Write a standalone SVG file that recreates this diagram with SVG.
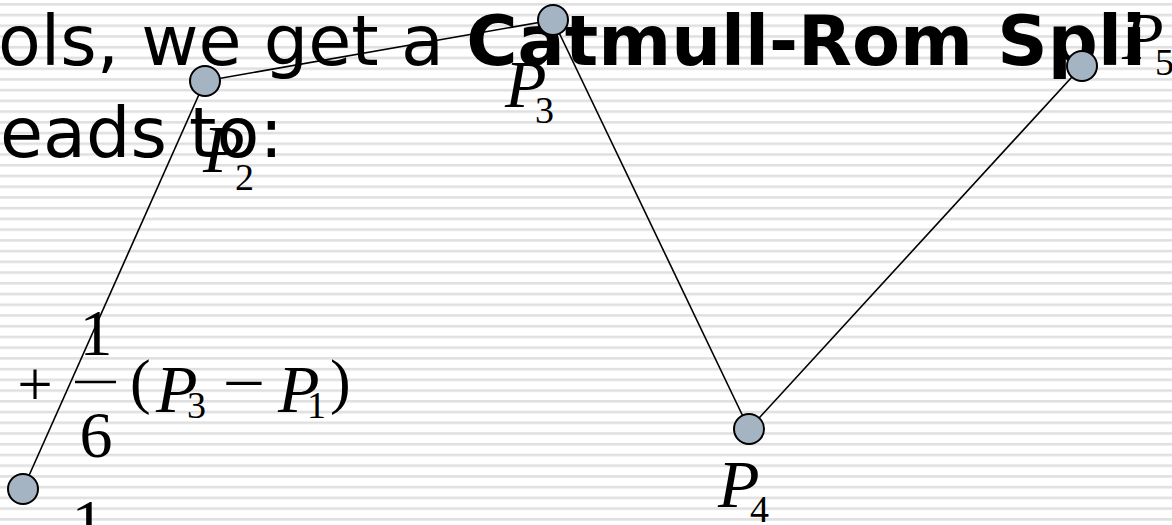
<svg xmlns="http://www.w3.org/2000/svg" width="1172" height="525" viewBox="0 0 1172 525">
  <defs>
    <pattern id="stripes" patternUnits="userSpaceOnUse" x="0" y="3" width="1172" height="10.73">
      <rect x="0" y="0" width="1172" height="2.6" fill="#e0e0e0"/>
    </pattern>
    <style>
      .slide { font-family: "DejaVu Sans", Verdana, sans-serif; font-size: 70px; fill: #000; }
      .bold { font-weight: bold; }
      .math { font-family: "Liberation Serif", "Times New Roman", serif; fill: #000; }
      .it { font-style: italic; }
      .big { font-size: 66px; }
      .lbl { font-size: 68px; }
      .sub { font-size: 38px; }
      .node { fill: #a5b4c3; stroke: #000; stroke-width: 2; }
      .edge { stroke: #000; stroke-width: 1.6; fill: none; }
    </style>
  </defs>

  <rect width="1172" height="525" fill="#ffffff"/>
  <rect width="1172" height="525" fill="url(#stripes)"/>

  <g id="slide-text">
    <text class="slide" x="-2" y="65">ols, we get a <tspan class="bold">Catmull-Rom Spli</tspan></text>
    <text class="slide" x="0" y="157">eads to:</text>
  </g>

  <g id="formula">
    <text class="math" x="35" y="406" font-size="63" text-anchor="middle">+</text>
    <text class="math big" x="96" y="355" text-anchor="middle">1</text>
    <line x1="75" y1="382" x2="116" y2="382" stroke="#000" stroke-width="2.5"/>
    <text class="math big" x="96" y="457" text-anchor="middle">6</text>
    <text class="math" x="130" y="402" font-size="62">(</text>
    <text class="math it lbl" x="156" y="412">P</text>
    <text class="math sub" x="187" y="418">3</text>
    <text class="math big" transform="translate(244,405) scale(1.15,1)" x="0" y="0" text-anchor="middle">−</text>
    <text class="math it lbl" x="278" y="412">P</text>
    <text class="math sub" x="307" y="418">1</text>
    <text class="math" x="330" y="402" font-size="62">)</text>
    <text class="math big" x="88" y="545" text-anchor="middle">1</text>
  </g>

  <g id="connectors">
    <line class="edge" x1="23" y1="489" x2="205" y2="81"/>
    <line class="edge" x1="205" y1="81" x2="553" y2="20"/>
    <line class="edge" x1="553" y1="20" x2="749" y2="429"/>
    <line class="edge" x1="749" y1="429" x2="1082" y2="66"/>
  </g>

  <g id="P1">
    <circle class="node" cx="23" cy="489" r="15"/>
  </g>
  <g id="P2">
    <circle class="node" cx="205" cy="81" r="15"/>
    <text class="math it lbl" x="203" y="172">P</text>
    <text class="math sub" x="235" y="190">2</text>
  </g>
  <g id="P3">
    <circle class="node" cx="553" cy="20" r="15"/>
    <text class="math it lbl" x="505" y="107">P</text>
    <text class="math sub" x="535" y="123">3</text>
  </g>
  <g id="P4">
    <circle class="node" cx="749" cy="429" r="15"/>
    <text class="math it lbl" x="718" y="507">P</text>
    <text class="math sub" x="750" y="522">4</text>
  </g>
  <g id="P5">
    <circle class="node" cx="1082" cy="66" r="15"/>
    <text class="math it lbl" x="1122" y="59">P</text>
    <text class="math sub" x="1155" y="75">5</text>
  </g>
</svg>
